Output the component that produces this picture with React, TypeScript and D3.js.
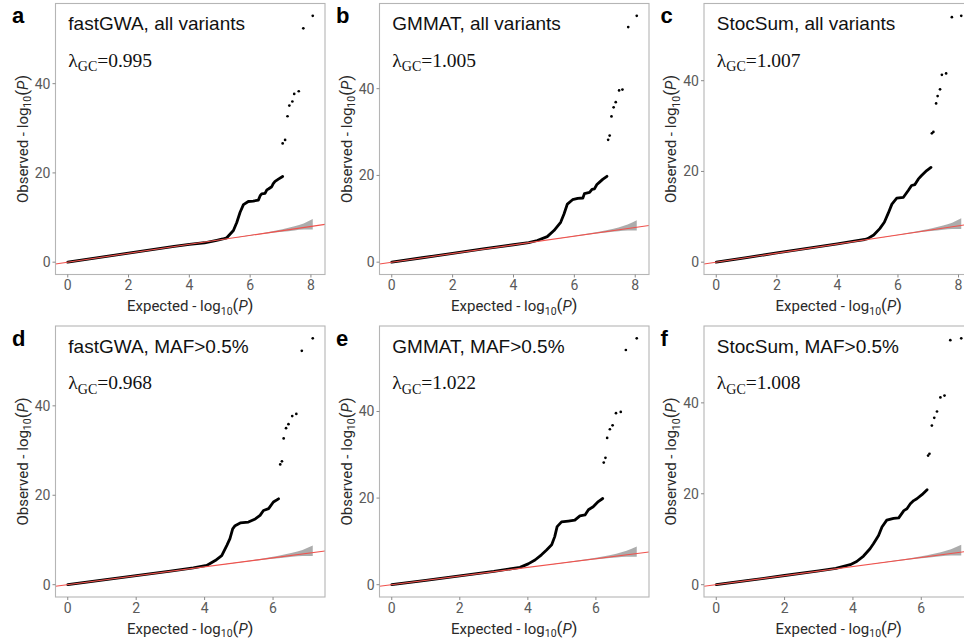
import React from 'react';
import * as d3 from 'd3';

const W = 964;
const H = 640;

// ---- text content ----
const panelLetters = ['a', 'b', 'c', 'd', 'e', 'f'];
const panelTitles = [
  'fastGWA, all variants',
  'GMMAT, all variants',
  'StocSum, all variants',
  'fastGWA, MAF>0.5%',
  'GMMAT, MAF>0.5%',
  'StocSum, MAF>0.5%',
];
const lambdaValues = ['0.995', '1.005', '1.007', '0.968', '1.022', '1.008'];
const xTickValues = [0, 2, 4, 6, 8];
const yTickValues = [0, 20, 40];

// ---- dense part of the QQ curves (expected, observed -log10 P) ----
const expectedA = [0, 1, 2, 3, 3.5, 4, 4.5, 4.9, 5.1, 5.23, 5.45, 5.56, 5.67, 5.78, 5.94, 6.1, 6.27, 6.33, 6.38, 6.49, 6.55, 6.6, 6.71, 6.76, 6.82, 6.93, 7.07];
const observedA = [0, 1.02, 2.04, 3.06, 3.55, 4.0, 4.35, 4.9, 5.2, 5.46, 7.1, 8.9, 11.2, 12.9, 13.6, 13.7, 13.9, 14.9, 15.3, 15.4, 16.2, 16.4, 16.9, 17.6, 18.1, 18.6, 19.2];

const expectedB = [0, 1, 2, 3, 4, 4.5, 4.78, 5.11, 5.33, 5.55, 5.66, 5.77, 5.94, 6.11, 6.28, 6.33, 6.5, 6.58, 6.66, 6.74, 6.82, 6.93, 7.07];
const observedB = [0, 1.02, 2.04, 3.05, 4.02, 4.5, 5.0, 5.9, 7.3, 9.2, 11.1, 13.4, 14.4, 14.7, 14.8, 15.8, 16.1, 16.8, 16.9, 17.9, 18.4, 19.1, 19.8];

const expectedC = [0, 1, 2, 3, 4, 4.5, 4.9, 5.0, 5.2, 5.4, 5.55, 5.68, 5.8, 5.96, 6.18, 6.34, 6.45, 6.56, 6.67, 6.78, 6.95, 7.09];
const observedC = [0, 1.02, 2.03, 3.05, 4.05, 4.6, 5.0, 5.2, 6.0, 7.4, 8.8, 10.8, 12.8, 14.1, 14.3, 15.8, 16.9, 17.1, 18.3, 19.1, 20.2, 20.9];

const expectedD = [0, 1, 2, 3, 3.67, 4.06, 4.31, 4.5, 4.65, 4.74, 4.82, 4.89, 5.04, 5.28, 5.48, 5.62, 5.72, 5.87, 6.01, 6.16];
const observedD = [0, 1.0, 2.02, 3.05, 3.75, 4.3, 5.4, 6.5, 8.8, 10.3, 12.5, 13.2, 13.8, 14.0, 14.7, 15.5, 16.6, 17.0, 18.5, 19.2];

const expectedE = [0, 1, 2, 3, 3.77, 4.01, 4.21, 4.4, 4.55, 4.7, 4.79, 4.86, 4.99, 5.19, 5.38, 5.53, 5.68, 5.78, 5.92, 6.07, 6.2];
const observedE = [0, 1.0, 2.02, 3.05, 4.0, 4.8, 5.7, 6.9, 8.0, 9.2, 11.1, 13.4, 14.5, 14.7, 14.9, 15.9, 16.1, 17.3, 18.0, 19.2, 19.9];

const expectedF = [0, 1, 2, 3, 3.5, 3.92, 4.11, 4.31, 4.5, 4.6, 4.75, 4.85, 4.99, 5.19, 5.34, 5.49, 5.58, 5.68, 5.78, 5.87, 6.02, 6.17];
const observedF = [0, 1.0, 2.02, 3.02, 3.6, 4.4, 5.1, 6.3, 7.9, 9.0, 10.8, 12.7, 14.2, 14.6, 14.7, 16.3, 16.7, 17.8, 18.5, 18.9, 19.8, 20.9];

// ---- sparse top hits ----
const tailExpectedA = [7.07, 7.15, 7.23, 7.29, 7.39, 7.45, 7.6, 7.75, 8.06];
const tailObservedA = [26.6, 27.4, 32.7, 35.1, 36.0, 37.7, 38.3, 52.4, 55.2];
const tailExpectedB = [7.11, 7.16, 7.22, 7.29, 7.36, 7.47, 7.58, 7.77, 8.05];
const tailObservedB = [28.2, 29.2, 33.6, 35.7, 36.9, 39.6, 39.8, 54.2, 56.8];
const tailExpectedC = [7.12, 7.17, 7.26, 7.31, 7.39, 7.45, 7.59, 7.78, 8.09];
const tailObservedC = [28.4, 28.7, 35.0, 36.6, 38.1, 41.3, 41.6, 54.0, 54.3];
const tailExpectedD = [6.21, 6.26, 6.31, 6.38, 6.45, 6.56, 6.68, 6.84, 7.16];
const tailObservedD = [26.9, 27.6, 32.7, 35.0, 35.9, 37.7, 38.2, 52.3, 55.1];
const tailExpectedE = [6.23, 6.28, 6.33, 6.41, 6.49, 6.59, 6.73, 6.88, 7.2];
const tailObservedE = [28.2, 29.3, 33.9, 35.9, 36.8, 39.6, 39.9, 54.2, 56.9];
const tailExpectedF = [6.2, 6.24, 6.31, 6.38, 6.46, 6.56, 6.68, 6.85, 7.17];
const tailObservedF = [28.4, 28.8, 35.0, 36.7, 38.1, 41.2, 41.6, 53.8, 54.2];

// ---- 95% band around the diagonal, as offsets from the top expected value ----
const bandDepth = [0, 0.3, 0.6, 1.0, 1.5, 2.0, 2.6];
const bandLower = [-0.75, -0.45, -0.34, -0.23, -0.12, -0.06, -0.03];
const bandUpper = [1.6, 0.92, 0.57, 0.32, 0.16, 0.08, 0.03];

const curvesX = [expectedA, expectedB, expectedC, expectedD, expectedE, expectedF];
const curvesY = [observedA, observedB, observedC, observedD, observedE, observedF];
const tailsX = [tailExpectedA, tailExpectedB, tailExpectedC, tailExpectedD, tailExpectedE, tailExpectedF];
const tailsY = [tailObservedA, tailObservedB, tailObservedC, tailObservedD, tailObservedE, tailObservedF];

// ---- layout ----
const colLeft = [55.5, 379.5, 704];
const rowTop = [3.5, 326];
const plotW = 269.5;
const plotH = 271;

const SANS = "'Liberation Sans', Arial, Helvetica, sans-serif";
const AXIS = "Roboto, 'Liberation Sans', Arial, sans-serif";
const SERIF = "'Liberation Serif', 'Times New Roman', serif";

function Panel({ i }: { i: number }) {
  const col = i % 3;
  const row = Math.floor(i / 3);
  const left = colLeft[col];
  const top = rowTop[row];
  const cx = curvesX[i];
  const cy = curvesY[i];
  const tx = tailsX[i];
  const ty = tailsY[i];
  const allX = [...cx, ...tx];
  const allY = [...cy, ...ty];
  const [xa, xb] = d3.extent(allX) as [number, number];
  const [ya, yb] = d3.extent(allY) as [number, number];
  const xs = d3
    .scaleLinear()
    .domain([xa - 0.05 * (xb - xa), xb + 0.05 * (xb - xa)])
    .range([left, left + plotW]);
  const ys = d3
    .scaleLinear()
    .domain([ya - 0.05 * (yb - ya), yb + 0.05 * (yb - ya)])
    .range([top + plotH, top]);

  const bandData = bandDepth.map((d, k) => {
    const e = xb - d;
    return { x: e, lo: e + bandLower[k], hi: e + bandUpper[k] };
  });
  const area = d3
    .area<{ x: number; lo: number; hi: number }>()
    .x((d) => xs(d.x))
    .y0((d) => ys(d.lo))
    .y1((d) => ys(d.hi))
    .curve(d3.curveMonotoneX);

  const line = d3
    .line<number>()
    .x((_, k) => xs(cx[k]))
    .y((d) => ys(d));

  const [dx0, dx1] = xs.domain();
  const diag = d3.line<number>().x((d) => xs(d)).y((d) => ys(d));

  const clipId = `clip-${i}`;
  const xt = xTickValues.filter((v) => v >= dx0 && v <= dx1);

  return (
    <g>
      <defs>
        <clipPath id={clipId}>
          <rect x={left} y={top} width={plotW} height={plotH} />
        </clipPath>
      </defs>
      <rect x={left} y={top} width={plotW} height={plotH} fill="#fff" />
      <g clipPath={`url(#${clipId})`}>
        <path d={area(bandData) || ''} fill="#a3a3a3" opacity={0.9} />
        <path
          d={line(cy) || ''}
          fill="none"
          stroke="#000"
          strokeWidth={2.8}
          strokeLinejoin="round"
          strokeLinecap="round"
        />
        {tx.map((v, k) => (
          <circle key={k} cx={xs(v)} cy={ys(ty[k])} r={1.35} fill="#000" />
        ))}
        <path d={diag([dx0, dx1]) || ''} stroke="#f0524d" strokeWidth={1.1} fill="none" />
      </g>
      <rect
        x={left}
        y={top}
        width={plotW}
        height={plotH}
        fill="none"
        stroke="#b5b5b5"
        strokeWidth={1.1}
      />
      {/* x axis */}
      {xt.map((v) => (
        <g key={`x${v}`}>
          <line x1={xs(v)} x2={xs(v)} y1={top + plotH} y2={top + plotH + 3} stroke="#8a8a8a" />
          <text
            x={xs(v)}
            y={top + plotH + 15.5}
            textAnchor="middle"
            fontFamily={AXIS}
            fontSize={14}
            fill="#5a5a5a"
          >
            {v}
          </text>
        </g>
      ))}
      {/* y axis */}
      {yTickValues.map((v) => (
        <g key={`y${v}`}>
          <line x1={left - 3} x2={left} y1={ys(v)} y2={ys(v)} stroke="#8a8a8a" />
          <text
            x={left - 5}
            y={ys(v) + 5}
            textAnchor="end"
            fontFamily={AXIS}
            fontSize={14}
            fill="#5a5a5a"
          >
            {v}
          </text>
        </g>
      ))}
      <text
        x={left + plotW / 2}
        y={top + plotH + 36.5}
        textAnchor="middle"
        fontFamily={AXIS}
        fontSize={15}
        fill="#2a2a2a"
      >
        Expected - log
        <tspan fontSize={10.5} dy={3.5}>10</tspan>
        <tspan dy={-3.5} fontSize={17}>(</tspan>
        <tspan fontStyle="italic">P</tspan>
        <tspan fontSize={17}>)</tspan>
      </text>
      <text
        transform={`translate(${left - 28},${top + plotH / 2}) rotate(-90)`}
        textAnchor="middle"
        fontFamily={AXIS}
        fontSize={15}
        fill="#2a2a2a"
      >
        Observed - log
        <tspan fontSize={10.5} dy={3.5}>10</tspan>
        <tspan dy={-3.5} fontSize={17}>(</tspan>
        <tspan fontStyle="italic">P</tspan>
        <tspan fontSize={17}>)</tspan>
      </text>
      {/* panel letter */}
      <text
        x={left - 43.5}
        y={top + 19.5}
        fontFamily={SANS}
        fontWeight="bold"
        fontSize={22}
        fill="#000"
      >
        {panelLetters[i]}
      </text>
      {/* title */}
      <text x={left + 12.8} y={top + 26.5} fontFamily={SANS} fontSize={19} fill="#111">
        {panelTitles[i]}
      </text>
      <text x={left + 12.8} y={top + 63} fontFamily={SERIF} fontSize={19.5} fill="#111">
        λ
        <tspan fontSize={14} dy={4.5}>GC</tspan>
        <tspan dy={-4.5}>={lambdaValues[i]}</tspan>
      </text>
    </g>
  );
}

export default function App() {
  return (
    <svg
      width={W}
      height={H}
      viewBox={`0 0 ${W} ${H}`}
      style={{ position: 'absolute', left: 0, top: 0, background: '#fff' }}
    >
      <rect x={0} y={0} width={W} height={H} fill="#fff" />
      {panelLetters.map((_, i) => (
        <Panel key={i} i={i} />
      ))}
    </svg>
  );
}
